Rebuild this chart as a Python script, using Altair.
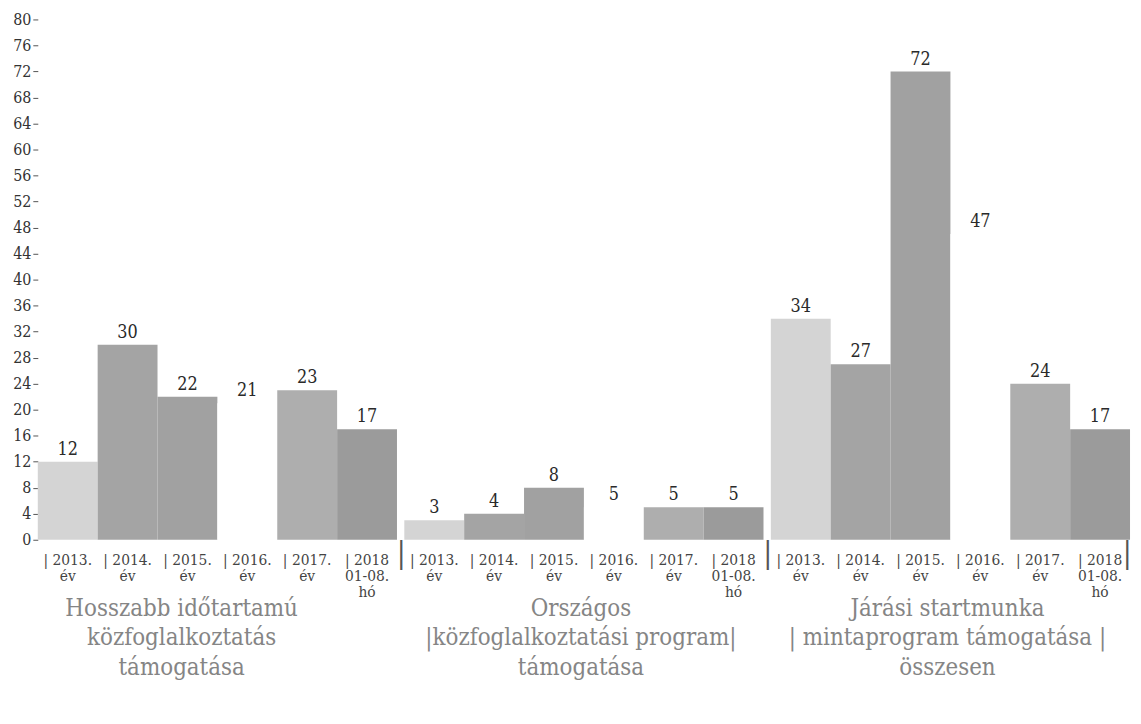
import altair as alt
import pandas as pd

groups = [
    "Hosszabb időtartamú\nközfoglalkoztatás\ntámogatása",
    "Országos\n|közfoglalkoztatási program|\ntámogatása",
    "Járási startmunka\n| mintaprogram támogatása |\nösszesen",
]
years = ["2013", "2014", "2015", "2016", "2017", "2018"]
year_labels = ["| 2013.\név", "| 2014.\név", "| 2015.\név", "| 2016.\név", "| 2017.\név", "| 2018\n01-08.\nhó"]
values_g1 = [12, 30, 22, 21, 23, 17]
values_g2 = [3, 4, 8, 5, 5, 5]
values_g3 = [34, 27, 72, 47, 24, 17]
bar_colors = ["#d4d4d4", "#a4a4a4", "#a1a1a1", "#ffffff", "#aeaeae", "#9b9b9b"]
y_ticks = list(range(0, 81, 4))

rows = []
for g, vals in zip(groups, [values_g1, values_g2, values_g3]):
    for y, lab, v in zip(years, year_labels, vals):
        rows.append({"group": g, "year": y, "ylabel": lab, "value": v})
df = pd.DataFrame(rows)

SERIF = "DejaVu Serif Condensed, DejaVu Serif"

x_enc = alt.X(
    "group:N",
    sort=groups,
    scale=alt.Scale(paddingInner=0.02, paddingOuter=0),
    axis=alt.Axis(
        title=None, domain=False, ticks=False, labelAngle=0,
        labelExpr="split(datum.label, '\\n')",
        labelFont=SERIF, labelFontSize=24, labelColor="#858585",
        labelPadding=57, labelLineHeight=30, labelLimit=500,
        labelBaseline="top",
        labelOffset={
            "condition": {"test": "indexof(datum.value, 'Hosszabb') >= 0", "value": -36},
            "value": -3,
        },
    ),
)
y_enc = alt.Y(
    "value:Q",
    scale=alt.Scale(domain=[0, 80], nice=False),
    axis=alt.Axis(
        title=None, values=y_ticks, grid=False, domain=False,
        labelOverlap=False,
        labelFont=SERIF, labelFontSize=16, labelColor="#333333",
        tickColor="#555555", tickSize=5, labelPadding=2,
    ),
)
xoff = alt.XOffset("year:N", sort=years, scale=alt.Scale(paddingInner=0, paddingOuter=0))

base = alt.Chart(df)

bars = base.mark_bar().encode(
    x=x_enc,
    xOffset=xoff,
    y=y_enc,
    color=alt.Color("year:N", sort=years, scale=alt.Scale(domain=years, range=bar_colors), legend=None),
)

value_text = base.mark_text(
    baseline="bottom", dy=-3, font=SERIF, fontSize=18, color="#2a2a2a"
).encode(
    x=x_enc,
    xOffset=xoff,
    y=y_enc,
    text="value:Q",
)

year_text = base.mark_text(
    baseline="middle", font=SERIF, fontSize=15.5, color="#444444", lineBreak="\n", lineHeight=16.5
).encode(
    x=x_enc,
    xOffset=xoff,
    y=alt.value(544),
    text="ylabel:N",
)

sep_left = pd.DataFrame({"group": groups[1:], "s": ["|", "|"]})
sep_right = pd.DataFrame({"group": groups[2:], "s": ["|"]})

pipes_left = alt.Chart(sep_left).mark_text(
    baseline="middle", font=SERIF, fontSize=30, color="#555555", dx=-184
).encode(x=x_enc, y=alt.value(538), text="s:N")

pipes_right = alt.Chart(sep_right).mark_text(
    baseline="middle", font=SERIF, fontSize=30, color="#555555", dx=178
).encode(x=x_enc, y=alt.value(538), text="s:N")

chart = (
    alt.layer(bars, value_text, year_text, pipes_left, pipes_right)
    .properties(
        width=1100,
        height=524,
        autosize=alt.AutoSizeParams(type="none"),
        padding={"left": 30, "top": 9, "right": 3, "bottom": 180},
    )
    .configure_view(stroke=None)
)

chart.save("out.html", embed_options={"renderer": "svg", "actions": False})
